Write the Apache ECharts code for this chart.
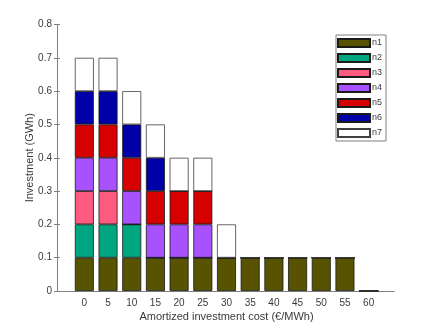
<!DOCTYPE html>
<html lang="en">
<head>
    <meta charset="UTF-8"/>
    <title>Investment</title>
    <script src="https://cdn.jsdelivr.net/npm/echarts@6/dist/echarts.min.js"></script>
</head>
<body style="margin:0">
<div id="main" style="width: 436px;height:327px;"></div>
<script type="text/javascript">
    // data
    var costs = ['0', '5', '10', '15', '20', '25', '30', '35', '40', '45', '50', '55', '60'];
    var n1 = [0.1, 0.1, 0.1, 0.1, 0.1, 0.1, 0.1, 0.1, 0.1, 0.1, 0.1, 0.1, 0];
    var n2 = [0.1, 0.1, 0.1, 0, 0, 0, 0, 0, 0, 0, 0, 0, 0];
    var n3 = [0.1, 0.1, 0, 0, 0, 0, 0, 0, 0, 0, 0, 0, 0];
    var n4 = [0.1, 0.1, 0.1, 0.1, 0.1, 0.1, 0, 0, 0, 0, 0, 0, 0];
    var n5 = [0.1, 0.1, 0.1, 0.1, 0.1, 0.1, 0, 0, 0, 0, 0, 0, 0];
    var n6 = [0.1, 0.1, 0.1, 0.1, 0, 0, 0, 0, 0, 0, 0, 0, 0];
    var n7 = [0.1, 0.1, 0.1, 0.1, 0.1, 0.1, 0.1, 0, 0, 0, 0, 0, 0];
    var seriesNames = ['n1', 'n2', 'n3', 'n4', 'n5', 'n6', 'n7'];
    var seriesData = [n1, n2, n3, n4, n5, n6, n7];
    var colors = ['#585300', '#00a680', '#ff5a80', '#a852ff', '#d60000', '#0000a8', '#ffffff'];

    var myChart = echarts.init(document.getElementById('main'));
    var textColor = '#3a3a3a';
    var frameColor = '#808080';
    var font = 'Helvetica, "Liberation Sans", Arial, sans-serif';

    var series = seriesNames.map(function (name, i) {
        return {
            name: name,
            type: 'bar',
            stack: 'all',
            xAxisIndex: 2,
            yAxisIndex: 2,
            barWidth: 19,
            data: seriesData[i],
            itemStyle: {
                color: colors[i],
                borderColor: i === 6 ? '#404040' : '#1a1a1a',
                borderWidth: 0.8
            }
        };
    });

    option = {
        animation: false,
        textStyle: {fontFamily: font},
        grid: [
            {left: 57, top: 24.5, width: 337, height: 266.5},
            {left: 72.5, top: 24.5, width: 308, height: 266.5}
        ],
        legend: {
            orient: 'vertical',
            left: 336,
            top: 35,
            padding: [3, 4, 3, 1],
            icon: 'rect',
            itemWidth: 32,
            itemHeight: 8,
            itemGap: 5,
            borderColor: frameColor,
            borderWidth: 1,
            backgroundColor: '#fff',
            textStyle: {fontSize: 9, color: textColor, padding: [0, 0, 0, -3]},
            data: seriesNames
        },
        xAxis: [
            // frame bottom / top
            {gridIndex: 0, type: 'value', min: 0, max: 1, position: 'bottom',
                axisLine: {lineStyle: {color: frameColor}}, axisTick: {show: false},
                axisLabel: {show: false}, splitLine: {show: false}},
            {gridIndex: 0, type: 'value', min: 0, max: 1, position: 'top',
                axisLine: {lineStyle: {color: frameColor}}, axisTick: {show: false},
                axisLabel: {show: false}, splitLine: {show: false}},
            // categories
            {gridIndex: 1, type: 'category', data: costs, position: 'bottom',
                axisLine: {show: false},
                axisTick: {inside: true, alignWithLabel: true, length: 3, lineStyle: {color: frameColor}},
                axisLabel: {color: textColor, fontSize: 10, margin: 7},
                name: 'Amortized investment cost (€/MWh)', nameLocation: 'middle', nameGap: 20,
                nameMoveOverlap: false,
                nameTextStyle: {color: textColor, fontSize: 11}},
            {gridIndex: 1, type: 'category', data: costs, position: 'top',
                axisLine: {show: false},
                axisTick: {inside: true, alignWithLabel: true, length: 3, lineStyle: {color: frameColor}},
                axisLabel: {show: false}}
        ],
        yAxis: [
            {gridIndex: 0, type: 'value', min: 0, max: 0.8, interval: 0.1, position: 'left',
                axisLine: {show: true, lineStyle: {color: frameColor}},
                axisTick: {inside: true, length: 3, lineStyle: {color: frameColor}},
                axisLabel: {color: textColor, fontSize: 10, margin: 5},
                splitLine: {show: false},
                name: 'Investment (GWh)', nameLocation: 'middle', nameGap: 22, nameRotate: 90,
                nameMoveOverlap: false,
                nameTextStyle: {color: textColor, fontSize: 11}},
            {gridIndex: 0, type: 'value', min: 0, max: 0.8, interval: 0.1, position: 'right',
                axisLine: {show: true, lineStyle: {color: frameColor}},
                axisTick: {inside: true, length: 3, lineStyle: {color: frameColor}},
                axisLabel: {show: false}, splitLine: {show: false}},
            {gridIndex: 1, type: 'value', min: 0, max: 0.8, show: false}
        ],
        series: series
    };

    myChart.setOption(option);
</script>
</body>
</html>
